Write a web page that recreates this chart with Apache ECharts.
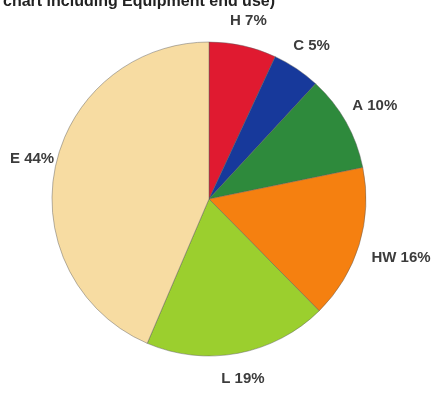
<!DOCTYPE html>
<html>
<head>
<meta charset="utf-8">
<script src="https://cdn.jsdelivr.net/npm/echarts@6/dist/echarts.min.js"></script>
<style>
  html, body { margin: 0; padding: 0; background: #ffffff; }
  #chart { width: 437px; height: 395px; }
</style>
</head>
<body>
<div id="chart"></div>
<script>
// End-use shares (percent), clockwise from 12 o'clock
const categories = ['H', 'C', 'A', 'HW', 'L', 'E'];
const shares = [7, 5, 10, 16, 19, 44];
const colors = ['#e01a30', '#17399b', '#2e8a3c', '#f58010', '#9bcf2e', '#f7dca2'];
const titleText = 'chart including Equipment end use)';

const CX = 209, CY = 199, R = 157;
const LABEL_GAP = 18;     // gap between the rim and the nearest edge of a label box
const EDGE_MARGIN = 10;   // keep labels inside the canvas

const chart = echarts.init(document.getElementById('chart'), null, { renderer: 'canvas' });

// Push each label out along its slice's mid-angle ray so that the label box
// sits just outside the rim (outside-end style labels without leader lines).
function placeLabel(params) {
  const lr = params.labelRect;
  const lx = lr.x + lr.width / 2;
  const ly = lr.y + lr.height / 2;
  let ux = lx - CX, uy = ly - CY;
  const len = Math.hypot(ux, uy) || 1;
  ux /= len; uy /= len;
  const hw = lr.width / 2, hh = lr.height / 2;
  const t = Math.min(
    Math.abs(ux) > 1e-6 ? hw / Math.abs(ux) : Infinity,
    Math.abs(uy) > 1e-6 ? hh / Math.abs(uy) : Infinity
  );
  const d = R + LABEL_GAP + t;
  let x = CX + ux * d;
  let y = CY + uy * d;
  x = Math.max(EDGE_MARGIN + hw, Math.min(437 - 2 - hw, x));
  return { x: x, y: y, align: 'center', verticalAlign: 'middle' };
}

chart.setOption({
  backgroundColor: '#ffffff',
  animation: false,
  title: {
    text: titleText,
    left: -2,
    top: -11,
    textStyle: {
      fontFamily: 'Liberation Sans, Arial, sans-serif',
      fontSize: 16,
      fontWeight: 'bold',
      color: '#222222'
    }
  },
  series: [{
    type: 'pie',
    center: [CX, CY],
    radius: R,
    startAngle: 90,
    clockwise: true,
    avoidLabelOverlap: false,
    data: categories.map((name, i) => ({
      name,
      value: shares[i],
      itemStyle: { color: colors[i] }
    })),
    itemStyle: {
      borderColor: 'rgba(90,90,90,0.45)',
      borderWidth: 1
    },
    label: {
      show: true,
      position: 'inside',
      formatter: p => p.name + ' ' + p.value + '%',
      fontFamily: 'Liberation Sans, Arial, sans-serif',
      fontSize: 15,
      fontWeight: 'bold',
      color: '#3c3c3c'
    },
    labelLine: { show: false },
    labelLayout: placeLabel,
    emphasis: { disabled: true }
  }]
});
</script>
</body>
</html>
